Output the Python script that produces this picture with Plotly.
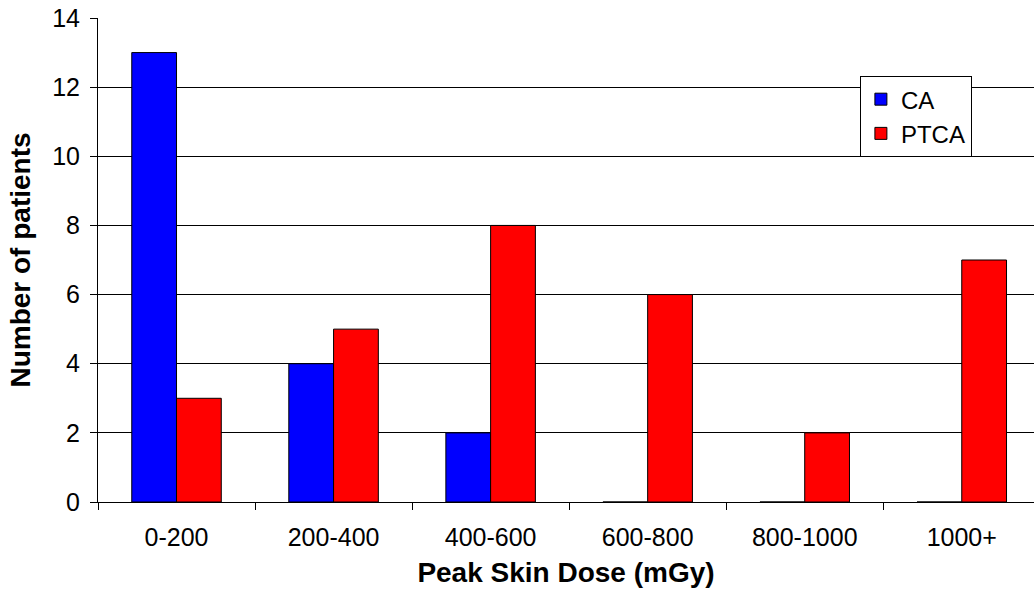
import plotly.graph_objects as go

categories = ['0-200', '200-400', '400-600', '600-800', '800-1000', '1000+']
ca_values = [13, 4, 2, 0, 0, 0]
ptca_values = [3, 5, 8, 6, 2, 7]
y_ticks = [0, 2, 4, 6, 8, 10, 12, 14]

fig = go.Figure()
fig.add_trace(go.Bar(name='CA', x=categories, y=ca_values,
                     marker=dict(color='#0000ff', line=dict(color='black', width=1))))
fig.add_trace(go.Bar(name='PTCA', x=categories, y=ptca_values,
                     marker=dict(color='#ff0000', line=dict(color='black', width=1))))

font_main = 'Liberation Sans, Arial, sans-serif'

fig.update_xaxes(type='category', range=[-0.5, 5.46], tickson='boundaries',
                 ticks='outside', ticklen=7, tickcolor='black', automargin=False,
                 ticklabelstandoff=13,
                 showline=True, linecolor='black', linewidth=1, showgrid=False,
                 tickfont=dict(family=font_main, size=25, color='black'),
                 title=dict(text='<b>Peak Skin Dose (mGy)</b>', standoff=12,
                            font=dict(family=font_main, size=28, color='black')))
fig.update_yaxes(range=[0, 14], tickvals=y_ticks, ticks='outside', ticklen=7, tickcolor='black',
                 showline=True, linecolor='black', linewidth=1, automargin=False,
                 ticklabelstandoff=5, ticklabeloverflow='allow',
                 showgrid=True, gridcolor='black', gridwidth=1, zeroline=False,
                 tickfont=dict(family=font_main, size=25, color='black'),
                 title=dict(text='<b>Number of patients</b>', standoff=13,
                            font=dict(family=font_main, size=28, color='black')))

fig.update_layout(barmode='group', bargap=0.43, bargroupgap=0,
                  width=1034, height=603,
                  margin={'l': 98, 'r': 0, 't': 18, 'b': 101},
                  plot_bgcolor='white', paper_bgcolor='white',
                  legend=dict(x=0.814, y=0.88, xanchor='left', yanchor='top',
                              bgcolor='white', bordercolor='black', borderwidth=1,
                              font=dict(family=font_main, size=24, color='black'),
                              itemwidth=30, tracegroupgap=0))

# drop the default 8px body margin so the figure sits at the window's corner
fig.write_html("out.html", config={'displayModeBar': False},
               post_script="document.body.style.margin='0';")
